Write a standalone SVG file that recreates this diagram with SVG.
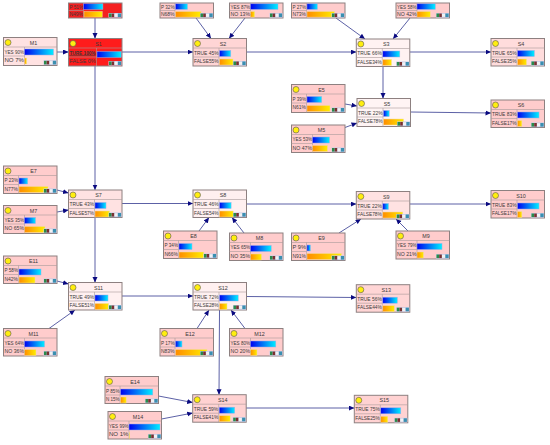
<svg xmlns="http://www.w3.org/2000/svg" width="550" height="445" viewBox="0 0 550 445">
<style>
text{font-family:"Liberation Sans",Arial,sans-serif;font-size:5.4px;fill:#3a3a3a}
.n{text-anchor:middle}
.f{stroke:#8d8080;stroke-width:1}
.s{stroke:#a89a9a;stroke-width:.6;fill:none}
.c line{stroke:#4a4f9c;stroke-width:.9;marker-end:url(#a)}
.l{fill:#ffee10;stroke:#555;stroke-width:.6}
.e{fill:#ffcccc}
.bb{fill:url(#gb);stroke:#9fa8e8;stroke-width:.5}
.by{fill:url(#gy);stroke:#f3d9a0;stroke-width:.5}
</style>
<defs>
<linearGradient id="gb"><stop offset="0" stop-color="#0000f0"/><stop offset="1" stop-color="#00f0ff"/></linearGradient>
<linearGradient id="gy"><stop offset="0" stop-color="#ff8c00"/><stop offset="1" stop-color="#ffee00"/></linearGradient>
<marker id="a" markerUnits="userSpaceOnUse" markerWidth="6" markerHeight="6" refX="5.5" refY="2.5" orient="auto"><path d="M0 0L5.5 2.5L0 5z" fill="#0a0a80"/></marker>
<g id="i"><rect x="0" y="0" width="13" height="4.6" fill="#c6cce8"/><rect x=".5" y=".5" width="2.6" height="3.6" fill="#2a8a4a"/><rect x="3.2" y=".5" width="2.6" height="3.6" fill="#7a3030"/><rect x="6" y=".8" width="3" height="3" fill="#f2f2f2"/><rect x="9.4" y=".5" width="3.2" height="3.6" fill="#3a8fb0"/></g>
</defs>
<g class="c" id="connectors">
<line x1="95" y1="18" x2="95" y2="38.5"/>
<line x1="57" y1="52" x2="68.5" y2="52"/>
<line x1="122" y1="52" x2="193" y2="52"/>
<line x1="95" y1="66" x2="95" y2="190"/>
<line x1="196" y1="18" x2="211" y2="38.5"/>
<line x1="245" y1="18" x2="229" y2="38.5"/>
<line x1="246.5" y1="52" x2="356.3" y2="52"/>
<line x1="336" y1="18" x2="365" y2="39"/>
<line x1="410" y1="18" x2="393" y2="39"/>
<line x1="409.5" y1="52" x2="491" y2="52"/>
<line x1="383" y1="66.5" x2="383" y2="98.5"/>
<line x1="345" y1="104" x2="357" y2="106"/>
<line x1="345" y1="127.5" x2="357" y2="123"/>
<line x1="410.5" y1="112" x2="491" y2="113"/>
<line x1="57" y1="190" x2="68.5" y2="193"/>
<line x1="57" y1="212" x2="68.5" y2="210"/>
<line x1="122" y1="203.5" x2="193" y2="203.5"/>
<line x1="95" y1="217.5" x2="95" y2="282.5"/>
<line x1="199" y1="231" x2="209" y2="217.5"/>
<line x1="244" y1="233" x2="232" y2="217.5"/>
<line x1="246.5" y1="204" x2="356.3" y2="204"/>
<line x1="409.5" y1="204" x2="491" y2="204"/>
<line x1="339" y1="233" x2="361" y2="219"/>
<line x1="408" y1="231" x2="396" y2="219"/>
<line x1="57" y1="281" x2="68.5" y2="284"/>
<line x1="49" y1="328.5" x2="75" y2="310"/>
<line x1="122" y1="296" x2="193" y2="296"/>
<line x1="197" y1="328.5" x2="209" y2="310"/>
<line x1="245" y1="328.5" x2="231" y2="310"/>
<line x1="246.5" y1="296.5" x2="356.3" y2="297.5"/>
<line x1="219.5" y1="310" x2="219" y2="394.7"/>
<line x1="158.5" y1="396" x2="192.7" y2="402.5"/>
<line x1="161.5" y1="419" x2="192.7" y2="413"/>
<line x1="246" y1="408" x2="354.3" y2="408"/>
</g>

<g id="E1" transform="translate(68.5,3)"><rect class="f" width="53.5" height="15" fill="#f42020"/><path class="s" d="M0 7.5H15M15 0V15"/><rect class="bb" x="15" y=".8" width="19.4" height="5.6"/><rect class="by" x="15.5" y="8.5" width="18.2" height="5.6"/><text x="1" y="5.5" textLength="13.5" lengthAdjust="spacingAndGlyphs">P 51%</text><text x="1" y="13" textLength="13.5" lengthAdjust="spacingAndGlyphs">N49%</text><use href="#i" x="40" y="10"/></g>
<g id="E2" transform="translate(160,3)"><rect class="f e" width="53.5" height="15"/><path class="s" d="M0 7.5H15M15 0V15"/><rect class="bb" x="15.5" y=".8" width="12" height="5.6"/><rect class="by" x="15.5" y="8.5" width="25.5" height="5.6"/><text x="1" y="5.5" textLength="13.5" lengthAdjust="spacingAndGlyphs">P 32%</text><text x="1" y="13" textLength="13.5" lengthAdjust="spacingAndGlyphs">N68%</text><use href="#i" x="40" y="10"/></g>
<g id="M2" transform="translate(229.5,3)"><rect class="f e" width="53.5" height="15"/><path class="s" d="M0 7.5H21M21 0V15"/><rect class="bb" x="21" y=".8" width="27.5" height="5.6"/><rect class="by" x="21" y="8.5" width="4.2" height="5.6"/><text x="1" y="5.5" textLength="19.5" lengthAdjust="spacingAndGlyphs">YES 87%</text><text x="1" y="13" textLength="19.5" lengthAdjust="spacingAndGlyphs">NO 13%</text><use href="#i" x="40" y="10"/></g>
<g id="E3" transform="translate(291.5,3)"><rect class="f e" width="53.5" height="15"/><path class="s" d="M0 7.5H15M15 0V15"/><rect class="bb" x="15.5" y=".8" width="10.4" height="5.6"/><rect class="by" x="15.5" y="8.5" width="27.5" height="5.6"/><text x="1" y="5.5" textLength="13.5" lengthAdjust="spacingAndGlyphs">P 27%</text><text x="1" y="13" textLength="13.5" lengthAdjust="spacingAndGlyphs">N73%</text><use href="#i" x="40" y="10"/></g>
<g id="M3" transform="translate(396,3)"><rect class="f e" width="53.5" height="15"/><path class="s" d="M0 7.5H21M21 0V15"/><rect class="bb" x="21" y=".8" width="18.3" height="5.6"/><rect class="by" x="21" y="8.5" width="13.3" height="5.6"/><text x="1" y="5.5" textLength="19.5" lengthAdjust="spacingAndGlyphs">YES 58%</text><text x="1" y="13" textLength="19.5" lengthAdjust="spacingAndGlyphs">NO 42%</text><use href="#i" x="40" y="10"/></g>

<g id="M1" transform="translate(3.5,37.5)"><rect class="f" width="53.5" height="28" fill="#ffe2e2"/><path class="s" d="M0 9.5H53.5M0 18.5H21M21 9.5V28"/><circle class="l" cx="4.5" cy="5" r="3"/><text class="n" x="30" y="7">M1</text><rect class="bb" x="21" y="11.5" width="29" height="6"/><rect class="by" x="21" y="20.5" width="2.2" height="6"/><text x="1" y="16" textLength="19.5" lengthAdjust="spacingAndGlyphs">YES 90%</text><text x="1" y="24.5" textLength="19.5" lengthAdjust="spacingAndGlyphs">NO 7%</text><use href="#i" x="40" y="22.8"/></g>
<g id="S1" transform="translate(68.5,38.5)"><rect class="f" width="53.5" height="27.5" fill="#fe1c1c"/><path class="s" d="M0 9.5H53.5M0 18.5H28M28 9.5V27.5"/><circle class="l" cx="4.5" cy="5" r="3"/><text class="n" x="30" y="7">S1</text><rect class="bb" x="28.5" y="13" width="24.2" height="6"/><text x="1" y="16" font-weight="bold" text-decoration="underline" textLength="26" lengthAdjust="spacingAndGlyphs">TURE 100%</text><text x="1" y="24.5" textLength="26" lengthAdjust="spacingAndGlyphs">FALSE 0%</text><use href="#i" x="40" y="22.5"/></g>
<g id="S2" transform="translate(193,38.5)"><rect class="f" width="53.5" height="27.5" fill="#ffd5d5"/><path class="s" d="M0 9.5H53.5M0 18.5H26M26 9.5V27.5"/><circle class="l" cx="4.5" cy="5" r="3"/><text class="n" x="30" y="7">S2</text><rect class="bb" x="26.5" y="12" width="11.3" height="6"/><rect class="by" x="26.5" y="20.5" width="13.5" height="6"/><text x="1" y="16" textLength="24.5" lengthAdjust="spacingAndGlyphs">TRUE 45%</text><text x="1" y="24.5" textLength="24.5" lengthAdjust="spacingAndGlyphs">FALSE55%</text><use href="#i" x="40" y="22.5"/></g>
<g id="S3" transform="translate(356.3,39)"><rect class="f" width="53.5" height="27.5" fill="#fff2f2"/><path class="s" d="M0 9.5H53.5M0 18.5H26M26 9.5V27.5"/><circle class="l" cx="4.5" cy="5" r="3"/><text class="n" x="30" y="7">S3</text><rect class="bb" x="26.5" y="12" width="17" height="6"/><rect class="by" x="26.5" y="20.5" width="8.7" height="6"/><text x="1" y="16" textLength="24.5" lengthAdjust="spacingAndGlyphs">TRUE 66%</text><text x="1" y="24.5" textLength="24.5" lengthAdjust="spacingAndGlyphs">FALSE34%</text><use href="#i" x="40" y="22.5"/></g>
<g id="S4" transform="translate(491,38.5)"><rect class="f" width="53.5" height="27.5" fill="#ffdcdc"/><path class="s" d="M0 9.5H53.5M0 18.5H26M26 9.5V27.5"/><circle class="l" cx="4.5" cy="5" r="3"/><text class="n" x="30" y="7">S4</text><rect class="bb" x="26.5" y="12" width="16.8" height="6"/><rect class="by" x="26.5" y="20.5" width="9" height="6"/><text x="1" y="16" textLength="24.5" lengthAdjust="spacingAndGlyphs">TRUE 65%</text><text x="1" y="24.5" textLength="24.5" lengthAdjust="spacingAndGlyphs">FALSE35%</text><use href="#i" x="40" y="22.5"/></g>

<g id="E5" transform="translate(291.5,84.5)"><rect class="f e" width="53.5" height="28"/><path class="s" d="M0 9.5H53.5M0 18.5H15M15 9.5V28"/><circle class="l" cx="4.5" cy="5" r="3"/><text class="n" x="30" y="7">E5</text><rect class="bb" x="15.5" y="12" width="14.7" height="6"/><rect class="by" x="15.5" y="21" width="23" height="6"/><text x="1" y="16" textLength="13.5" lengthAdjust="spacingAndGlyphs">P 39%</text><text x="1" y="24.5" textLength="13.5" lengthAdjust="spacingAndGlyphs">N61%</text><use href="#i" x="40" y="23"/></g>
<g id="S5" transform="translate(357,98.5)"><rect class="f" width="53.5" height="28" fill="#fff4f4"/><path class="s" d="M0 9.5H53.5M0 18.5H26M26 9.5V28"/><circle class="l" cx="4.5" cy="5" r="3"/><text class="n" x="30" y="7">S5</text><rect class="bb" x="26.5" y="12" width="5.7" height="6"/><rect class="by" x="26.5" y="20.5" width="20" height="6"/><text x="1" y="16" textLength="24.5" lengthAdjust="spacingAndGlyphs">TRUE 22%</text><text x="1" y="24.5" textLength="24.5" lengthAdjust="spacingAndGlyphs">FALSE78%</text><use href="#i" x="40" y="23"/></g>
<g id="M5" transform="translate(291.5,125)"><rect class="f e" width="53.5" height="27.5"/><path class="s" d="M0 9.5H53.5M0 18.5H21M21 9.5V27.5"/><circle class="l" cx="4.5" cy="5" r="3"/><text class="n" x="30" y="7">M5</text><rect class="bb" x="21" y="12" width="17" height="6"/><rect class="by" x="21" y="20.5" width="15" height="6"/><text x="1" y="16" textLength="19.5" lengthAdjust="spacingAndGlyphs">YES 53%</text><text x="1" y="24.5" textLength="19.5" lengthAdjust="spacingAndGlyphs">NO 47%</text><use href="#i" x="40" y="22.5"/></g>
<g id="S6" transform="translate(491,100)"><rect class="f e" width="53.5" height="27.5"/><path class="s" d="M0 9.5H53.5M0 18.5H26M26 9.5V27.5"/><circle class="l" cx="4.5" cy="5" r="3"/><text class="n" x="30" y="7">S6</text><rect class="bb" x="26.5" y="12" width="21.5" height="6"/><rect class="by" x="26.5" y="20.5" width="4.4" height="6"/><text x="1" y="16" textLength="24.5" lengthAdjust="spacingAndGlyphs">TRUE 83%</text><text x="1" y="24.5" textLength="24.5" lengthAdjust="spacingAndGlyphs">FALSE17%</text><use href="#i" x="40" y="22.5"/></g>

<g id="E7" transform="translate(3.5,166)"><rect class="f e" width="53.5" height="27.5"/><path class="s" d="M0 9.5H53.5M0 18.5H15M15 9.5V27.5"/><circle class="l" cx="4.5" cy="5" r="3"/><text class="n" x="30" y="7">E7</text><rect class="bb" x="15.5" y="12" width="8.7" height="6"/><rect class="by" x="15.5" y="20.5" width="29" height="6"/><text x="1" y="16" textLength="13.5" lengthAdjust="spacingAndGlyphs">P 23%</text><text x="1" y="24.5" textLength="13.5" lengthAdjust="spacingAndGlyphs">N77%</text><use href="#i" x="40" y="22.5"/></g>
<g id="M7" transform="translate(3.5,205.5)"><rect class="f e" width="53.5" height="28"/><path class="s" d="M0 9.5H53.5M0 18.5H21M21 9.5V28"/><circle class="l" cx="4.5" cy="5" r="3"/><text class="n" x="30" y="7">M7</text><rect class="bb" x="21" y="12" width="11" height="6"/><rect class="by" x="21" y="21" width="20.5" height="6"/><text x="1" y="16" textLength="19.5" lengthAdjust="spacingAndGlyphs">YES 35%</text><text x="1" y="24.5" textLength="19.5" lengthAdjust="spacingAndGlyphs">NO 65%</text><use href="#i" x="40" y="23"/></g>
<g id="S7" transform="translate(68.5,190)"><rect class="f" width="53.5" height="27.5" fill="#ffe2e2"/><path class="s" d="M0 9.5H53.5M0 18.5H26M26 9.5V27.5"/><circle class="l" cx="4.5" cy="5" r="3"/><text class="n" x="30" y="7">S7</text><rect class="bb" x="26.5" y="12.5" width="11" height="6"/><rect class="by" x="26.5" y="21" width="14.5" height="6"/><text x="1" y="16" textLength="24.5" lengthAdjust="spacingAndGlyphs">TRUE 43%</text><text x="1" y="24.5" textLength="24.5" lengthAdjust="spacingAndGlyphs">FALSE57%</text><use href="#i" x="40" y="22.5"/></g>
<g id="S8" transform="translate(193,190)"><rect class="f" width="53.5" height="27.5" fill="#fff0f0"/><path class="s" d="M0 9.5H53.5M0 18.5H26M26 9.5V27.5"/><circle class="l" cx="4.5" cy="5" r="3"/><text class="n" x="30" y="7">S8</text><rect class="bb" x="26.5" y="12.5" width="11.6" height="6"/><rect class="by" x="26.5" y="21" width="13.7" height="6"/><text x="1" y="16" textLength="24.5" lengthAdjust="spacingAndGlyphs">TRUE 46%</text><text x="1" y="24.5" textLength="24.5" lengthAdjust="spacingAndGlyphs">FALSE54%</text><use href="#i" x="40" y="22.5"/></g>
<g id="E8" transform="translate(163.5,231)"><rect class="f e" width="53.5" height="27.5"/><path class="s" d="M0 9.5H53.5M0 18.5H15M15 9.5V27.5"/><circle class="l" cx="4.5" cy="5" r="3"/><text class="n" x="30" y="7">E8</text><rect class="bb" x="15.5" y="12.5" width="13" height="6"/><rect class="by" x="15.5" y="21" width="24.8" height="6"/><text x="1" y="16" textLength="13.5" lengthAdjust="spacingAndGlyphs">P 34%</text><text x="1" y="24.5" textLength="13.5" lengthAdjust="spacingAndGlyphs">N66%</text><use href="#i" x="40" y="22.5"/></g>
<g id="M8" transform="translate(229.5,233)"><rect class="f e" width="53.5" height="27.5"/><path class="s" d="M0 9.5H53.5M0 18.5H21M21 9.5V27.5"/><circle class="l" cx="4.5" cy="5" r="3"/><text class="n" x="30" y="7">M8</text><rect class="bb" x="21" y="12.5" width="20.7" height="6"/><rect class="by" x="21" y="21" width="11" height="6"/><text x="1" y="16" textLength="19.5" lengthAdjust="spacingAndGlyphs">YES 65%</text><text x="1" y="24.5" textLength="19.5" lengthAdjust="spacingAndGlyphs">NO 35%</text><use href="#i" x="40" y="22.5"/></g>
<g id="S9" transform="translate(356.3,191.5)"><rect class="f" width="53.5" height="27.5" fill="#ffe2e2"/><path class="s" d="M0 9.5H53.5M0 18.5H26M26 9.5V27.5"/><circle class="l" cx="4.5" cy="5" r="3"/><text class="n" x="30" y="7">S9</text><rect class="bb" x="26.5" y="12" width="5.7" height="6"/><rect class="by" x="26.5" y="20.5" width="20" height="6"/><text x="1" y="16" textLength="24.5" lengthAdjust="spacingAndGlyphs">TRUE 22%</text><text x="1" y="24.5" textLength="24.5" lengthAdjust="spacingAndGlyphs">FALSE78%</text><use href="#i" x="40" y="22.5"/></g>
<g id="S10" transform="translate(491,190.5)"><rect class="f e" width="53.5" height="27.5"/><path class="s" d="M0 9.5H53.5M0 18.5H26M26 9.5V27.5"/><circle class="l" cx="4.5" cy="5" r="3"/><text class="n" x="30" y="7">S10</text><rect class="bb" x="26.5" y="12.5" width="21.5" height="6"/><rect class="by" x="26.5" y="21" width="4.4" height="6"/><text x="1" y="16" textLength="24.5" lengthAdjust="spacingAndGlyphs">TRUE 83%</text><text x="1" y="24.5" textLength="24.5" lengthAdjust="spacingAndGlyphs">FALSE17%</text><use href="#i" x="40" y="22.5"/></g>
<g id="E9" transform="translate(291.5,233)"><rect class="f e" width="53.5" height="27.5"/><path class="s" d="M0 9.5H53.5M0 18.5H15M15 9.5V27.5"/><circle class="l" cx="4.5" cy="5" r="3"/><text class="n" x="30" y="7">E9</text><rect class="bb" x="15.5" y="12" width="3.5" height="6"/><rect class="by" x="15.5" y="20.5" width="34.5" height="6"/><text x="1" y="16" textLength="13.5" lengthAdjust="spacingAndGlyphs">P 9%</text><text x="1" y="24.5" textLength="13.5" lengthAdjust="spacingAndGlyphs">N91%</text><use href="#i" x="40" y="22.5"/></g>
<g id="M9" transform="translate(396,231)"><rect class="f e" width="53.5" height="28"/><path class="s" d="M0 9.5H53.5M0 18.5H21M21 9.5V28"/><circle class="l" cx="4.5" cy="5" r="3"/><text class="n" x="30" y="7">M9</text><rect class="bb" x="21" y="12.5" width="25" height="6"/><rect class="by" x="21" y="21" width="6.5" height="6"/><text x="1" y="16" textLength="19.5" lengthAdjust="spacingAndGlyphs">YES 79%</text><text x="1" y="24.5" textLength="19.5" lengthAdjust="spacingAndGlyphs">NO 21%</text><use href="#i" x="40" y="23"/></g>

<g id="E11" transform="translate(3.5,256)"><rect class="f e" width="53.5" height="27.5"/><path class="s" d="M0 9.5H53.5M0 18.5H15M15 9.5V27.5"/><circle class="l" cx="4.5" cy="5" r="3"/><text class="n" x="30" y="7">E11</text><rect class="bb" x="15.5" y="13" width="22" height="6"/><rect class="by" x="15.5" y="21" width="16" height="6"/><text x="1" y="16" textLength="13.5" lengthAdjust="spacingAndGlyphs">P 58%</text><text x="1" y="24.5" textLength="13.5" lengthAdjust="spacingAndGlyphs">N42%</text><use href="#i" x="40" y="22.5"/></g>
<g id="S11" transform="translate(68.5,282.5)"><rect class="f" width="53.5" height="27.5" fill="#fff0f0"/><path class="s" d="M0 9.5H53.5M0 18.5H26M26 9.5V27.5"/><circle class="l" cx="4.5" cy="5" r="3"/><text class="n" x="30" y="7">S11</text><rect class="bb" x="26.5" y="12.5" width="13" height="6"/><rect class="by" x="26.5" y="21" width="13.5" height="6"/><text x="1" y="16" textLength="24.5" lengthAdjust="spacingAndGlyphs">TRUE 49%</text><text x="1" y="24.5" textLength="24.5" lengthAdjust="spacingAndGlyphs">FALSE51%</text><use href="#i" x="40" y="22.5"/></g>
<g id="M11" transform="translate(3.5,328.5)"><rect class="f e" width="53.5" height="27.5"/><path class="s" d="M0 9.5H53.5M0 18.5H21M21 9.5V27.5"/><circle class="l" cx="4.5" cy="5" r="3"/><text class="n" x="30" y="7">M11</text><rect class="bb" x="21" y="12.5" width="20" height="6"/><rect class="by" x="21" y="21" width="11.5" height="6"/><text x="1" y="16" textLength="19.5" lengthAdjust="spacingAndGlyphs">YES 64%</text><text x="1" y="24.5" textLength="19.5" lengthAdjust="spacingAndGlyphs">NO 36%</text><use href="#i" x="40" y="22.5"/></g>
<g id="S12" transform="translate(193,282.5)"><rect class="f" width="53.5" height="27.5" fill="#fff0f0"/><path class="s" d="M0 9.5H53.5M0 18.5H26M26 9.5V27.5"/><circle class="l" cx="4.5" cy="5" r="3"/><text class="n" x="30" y="7">S12</text><rect class="bb" x="26.5" y="12.5" width="18.7" height="6"/><rect class="by" x="26.5" y="21" width="7.5" height="6"/><text x="1" y="16" textLength="24.5" lengthAdjust="spacingAndGlyphs">TRUE 72%</text><text x="1" y="24.5" textLength="24.5" lengthAdjust="spacingAndGlyphs">FALSE28%</text><use href="#i" x="40" y="22.5"/></g>
<g id="E12" transform="translate(160,328.5)"><rect class="f e" width="53.5" height="27.5"/><path class="s" d="M0 9.5H53.5M0 18.5H15M15 9.5V27.5"/><circle class="l" cx="4.5" cy="5" r="3"/><text class="n" x="30" y="7">E12</text><rect class="bb" x="15.5" y="12.5" width="6.5" height="6"/><rect class="by" x="15.5" y="21" width="31.5" height="6"/><text x="1" y="16" textLength="13.5" lengthAdjust="spacingAndGlyphs">P 17%</text><text x="1" y="24.5" textLength="13.5" lengthAdjust="spacingAndGlyphs">N83%</text><use href="#i" x="40" y="22.5"/></g>
<g id="M12" transform="translate(229.5,328.5)"><rect class="f e" width="53.5" height="27.5"/><path class="s" d="M0 9.5H53.5M0 18.5H21M21 9.5V27.5"/><circle class="l" cx="4.5" cy="5" r="3"/><text class="n" x="30" y="7">M12</text><rect class="bb" x="21" y="12.5" width="25.3" height="6"/><rect class="by" x="21" y="21" width="6.5" height="6"/><text x="1" y="16" textLength="19.5" lengthAdjust="spacingAndGlyphs">YES 80%</text><text x="1" y="24.5" textLength="19.5" lengthAdjust="spacingAndGlyphs">NO 20%</text><use href="#i" x="40" y="22.5"/></g>
<g id="S13" transform="translate(356.3,284.7)"><rect class="f" width="53.5" height="27.5" fill="#ffd5d5"/><path class="s" d="M0 9.5H53.5M0 18.5H26M26 9.5V27.5"/><circle class="l" cx="4.5" cy="5" r="3"/><text class="n" x="30" y="7">S13</text><rect class="bb" x="26.5" y="12.5" width="14.5" height="6"/><rect class="by" x="26.5" y="21" width="11.5" height="6"/><text x="1" y="16" textLength="24.5" lengthAdjust="spacingAndGlyphs">TRUE 56%</text><text x="1" y="24.5" textLength="24.5" lengthAdjust="spacingAndGlyphs">FALSE44%</text><use href="#i" x="40" y="22.5"/></g>
<g id="E14" transform="translate(105,376.5)"><rect class="f e" width="53.5" height="27"/><path class="s" d="M0 9.5H53.5M0 18.5H15M15 9.5V27"/><circle class="l" cx="4.5" cy="5" r="3"/><text class="n" x="30" y="7">E14</text><rect class="bb" x="15.5" y="12.5" width="32.3" height="6"/><rect class="by" x="15.5" y="20.5" width="5.7" height="6"/><text x="1" y="16" textLength="13.5" lengthAdjust="spacingAndGlyphs">P 85%</text><text x="1" y="24.5" textLength="13.5" lengthAdjust="spacingAndGlyphs">N 15%</text><use href="#i" x="40" y="22"/></g>
<g id="M14" transform="translate(108,411.5)"><rect class="f e" width="53.5" height="27.5"/><path class="s" d="M0 9.5H53.5M0 18.5H21M21 9.5V27.5"/><circle class="l" cx="4.5" cy="5" r="3"/><text class="n" x="30" y="7">M14</text><rect class="bb" x="21" y="12.5" width="31" height="6"/><rect class="by" x="21" y="21" width=".6" height="6"/><text x="1" y="16" textLength="19.5" lengthAdjust="spacingAndGlyphs">YES 99%</text><text x="1" y="24.5" textLength="19.5" lengthAdjust="spacingAndGlyphs">NO 1%</text><use href="#i" x="40" y="22.5"/></g>
<g id="S14" transform="translate(192.7,394.7)"><rect class="f" width="53.5" height="27.5" fill="#ffd2d2"/><path class="s" d="M0 9.5H53.5M0 18.5H26M26 9.5V27.5"/><circle class="l" cx="4.5" cy="5" r="3"/><text class="n" x="30" y="7">S14</text><rect class="bb" x="26.5" y="12.5" width="15.5" height="6"/><rect class="by" x="26.5" y="21" width="11" height="6"/><text x="1" y="16" textLength="24.5" lengthAdjust="spacingAndGlyphs">TRUE 59%</text><text x="1" y="24.5" textLength="24.5" lengthAdjust="spacingAndGlyphs">FALSE41%</text><use href="#i" x="40" y="22.5"/></g>
<g id="S15" transform="translate(354.3,395.3)"><rect class="f" width="53.5" height="27.5" fill="#ffd2d2"/><path class="s" d="M0 9.5H53.5M0 18.5H26M26 9.5V27.5"/><circle class="l" cx="4.5" cy="5" r="3"/><text class="n" x="30" y="7">S15</text><rect class="bb" x="26.5" y="12.5" width="20" height="6"/><rect class="by" x="26.5" y="21" width="7" height="6"/><text x="1" y="16" textLength="24.5" lengthAdjust="spacingAndGlyphs">TRUE 75%</text><text x="1" y="24.5" textLength="24.5" lengthAdjust="spacingAndGlyphs">FALSE25%</text><use href="#i" x="40" y="22.5"/></g>
</svg>
